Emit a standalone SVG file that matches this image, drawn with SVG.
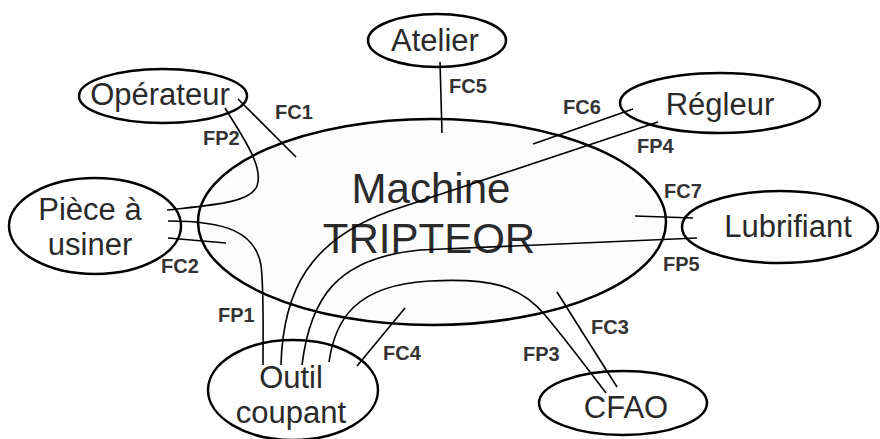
<svg xmlns="http://www.w3.org/2000/svg" width="880" height="439" viewBox="0 0 880 439">
<style>
.node{fill:#ffffff;stroke:#000;stroke-width:2.5}
.main{fill:#fcfcfc;stroke:#000;stroke-width:2.5}
.nt{font-family:"Liberation Sans",Arial,sans-serif;font-size:31px;fill:#2a2a2a;text-anchor:middle}
.mt{font-family:"Liberation Sans",Arial,sans-serif;font-size:42px;fill:#2a2a2a;text-anchor:middle}
.lab{font-family:"Liberation Sans",Arial,sans-serif;font-size:20px;font-weight:bold;fill:#333}
.c{fill:none;stroke:#000;stroke-width:1.6}
</style>
<rect width="880" height="439" fill="#fff"/>
<g id="machine">
<ellipse class="main" cx="432" cy="222" rx="234" ry="103"/>
<text class="mt" x="431" y="203">Machine</text>
<text class="mt" x="429" y="253">TRIPTEOR</text>
</g>
<g id="atelier">
<ellipse class="node" cx="437" cy="40.5" rx="69" ry="26.5"/>
<text class="nt" x="435" y="51">Atelier</text>
</g>
<g id="operateur">
<ellipse class="node" cx="163" cy="96" rx="84" ry="27"/>
<text class="nt" x="160" y="105">Opérateur</text>
</g>
<g id="piece">
<ellipse class="node" cx="95" cy="226" rx="86" ry="48"/>
<text class="nt" x="90" y="220">Pièce à</text>
<text class="nt" x="90" y="255">usiner</text>
</g>
<g id="outil">
<ellipse class="node" cx="293" cy="390" rx="85" ry="50"/>
<text class="nt" x="291" y="388">Outil</text>
<text class="nt" x="291" y="423">coupant</text>
</g>
<g id="cfao">
<ellipse class="node" cx="623" cy="403" rx="84" ry="32"/>
<text class="nt" x="626" y="418">CFAO</text>
</g>
<g id="regleur">
<ellipse class="node" cx="720" cy="103" rx="100" ry="30"/>
<text class="nt" x="720" y="115">Régleur</text>
</g>
<g id="lubrifiant">
<ellipse class="node" cx="780" cy="227" rx="98" ry="36"/>
<text class="nt" x="788" y="237">Lubrifiant</text>
</g>
<g id="connectors">
<line class="c" x1="238" y1="99" x2="296" y2="157"/>
<path class="c" d="M225,108 C242,136 264,166 257,186 C250,203 212,205 167,210"/>
<line class="c" x1="168" y1="238" x2="226" y2="243"/>
<path class="c" d="M168,221 C226,221 255,232 261,265 C264,290 263,330 263,365"/>
<path class="c" d="M281,365 C283,290 310,240 390,211 L658,122"/>
<path class="c" d="M302,365 C310,300 335,258 420,250 L697,238"/>
<path class="c" d="M329,362 C335,320 355,285 430,281 C490,278 520,285 545,315 C570,345 590,372 606,393"/>
<line class="c" x1="557" y1="292" x2="617" y2="387"/>
<line class="c" x1="405" y1="308" x2="357" y2="366"/>
<line class="c" x1="440" y1="62" x2="442" y2="133"/>
<line class="c" x1="633" y1="109" x2="533" y2="144"/>
<line class="c" x1="635" y1="216" x2="693" y2="218"/>
</g>
<g id="labels">
<text class="lab" x="275" y="119">FC1</text>
<text class="lab" x="203" y="145">FP2</text>
<text class="lab" x="161" y="273">FC2</text>
<text class="lab" x="218" y="322">FP1</text>
<text class="lab" x="383" y="360">FC4</text>
<text class="lab" x="591" y="334">FC3</text>
<text class="lab" x="523" y="361">FP3</text>
<text class="lab" x="663" y="271">FP5</text>
<text class="lab" x="664" y="198">FC7</text>
<text class="lab" x="637" y="153">FP4</text>
<text class="lab" x="563" y="114">FC6</text>
<text class="lab" x="449" y="93">FC5</text>
</g>
</svg>
